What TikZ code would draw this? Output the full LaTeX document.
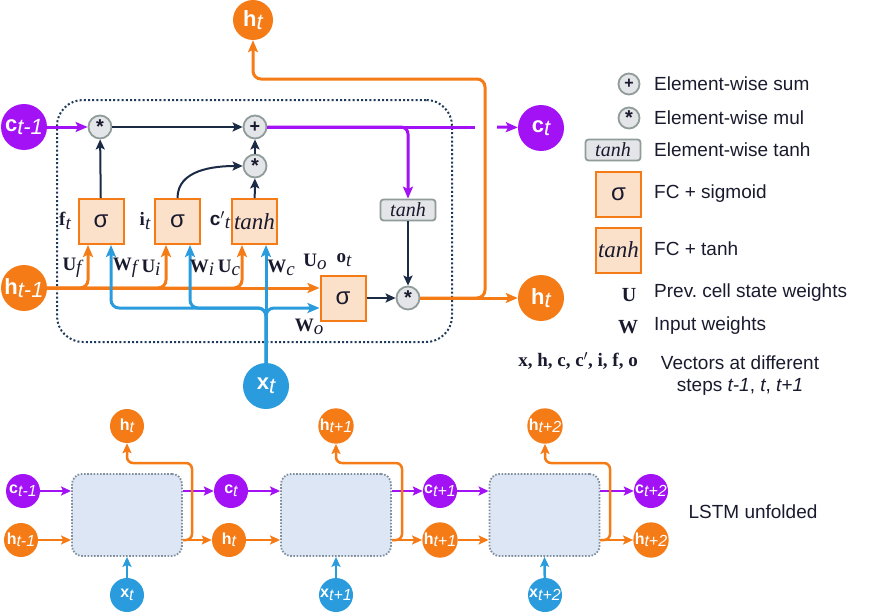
\documentclass[tikz,border=0pt]{standalone}
\usepackage{fontspec}
\setmainfont{Liberation Sans}
\newfontfamily\tms{Liberation Serif}
\usetikzlibrary{arrows.meta}

\definecolor{cOr}{HTML}{F47B16}
\definecolor{cPu}{HTML}{A311F5}
\definecolor{cBl}{HTML}{2A9BDC}
\definecolor{cNv}{HTML}{1B2A45}
\definecolor{cGate}{HTML}{FBE1CA}
\definecolor{cOp}{HTML}{E4E5E8}
\definecolor{cOpB}{HTML}{8F9C99}
\definecolor{cCell}{HTML}{DCE6F5}
\definecolor{cCellB}{HTML}{7F8F9C}
\definecolor{cTxt}{HTML}{1A1A2E}
\definecolor{cDot}{HTML}{1F3A5A}

% vector label: bold letter, italic lowered step index
\newcommand{\vl}[2]{\textbf{#1}\raisebox{-0.3ex}{\itshape #2}}
% weight / gate label in a serif face
\newcommand{\wl}[2]{{\tms\bfseries #1}\raisebox{-0.35ex}{\tms\itshape #2}}
\newcommand{\fs}[1]{\fontsize{#1}{#1}\selectfont}
% centred star for the element-wise product
\newcommand{\mulsym}{\raisebox{-0.45ex}{\fs{20}\bfseries *}}

\tikzset{
  vec/.style={circle, minimum size=46pt, inner sep=0pt, text=white, font=\fs{22}},
  vecS/.style={circle, minimum size=34pt, inner sep=0pt, text=white, font=\fs{16}},
  opc/.style={circle, draw=cOpB, fill=cOp, line width=1.8pt, minimum size=23pt, inner sep=0pt, text=cTxt, font=\fs{18}\bfseries},
  gate/.style={draw=cOr, fill=cGate, line width=2pt, minimum size=45pt, inner sep=0pt, text=cTxt},
  etanh/.style={draw=cOpB, fill=cOp, rounded corners=3pt, line width=1.8pt, minimum width=55pt, minimum height=21pt, inner sep=0pt, text=cTxt, font=\tms\itshape\fs{20}},
  cellbox/.style={draw=cCellB, fill=cCell, dash pattern=on 1.6pt off 1.6pt, line width=1.8pt, rounded corners=10pt, minimum width=110pt, minimum height=82pt, inner sep=0pt},
  frame/.style={draw=cDot, dash pattern=on 2pt off 2.2pt, line width=2pt, rounded corners=26pt, minimum width=395pt, minimum height=242pt, inner sep=0pt},
  lbl/.style={inner sep=0pt, text=cTxt, font=\fs{19}},
  leg/.style={inner sep=0pt, anchor=west, text=cTxt, font=\fs{19}},
  tipA/.tip={Stealth[length=12pt,width=10pt,inset=2.5pt]},
  tipS/.tip={Stealth[length=10pt,width=9pt,inset=2pt]},
  orL/.style={cOr, line width=3pt},
  puL/.style={cPu, line width=3pt},
  blL/.style={cBl, line width=3pt},
  nvL/.style={cNv, line width=2pt, -tipS},
  orS/.style={cOr, line width=2.5pt, -tipS},
  puS/.style={cPu, line width=2.5pt, -tipS},
  blS/.style={cBl, line width=2.5pt, -tipS},
}

\begin{document}
\begin{tikzpicture}[x=1pt, y=-1pt]
\useasboundingbox (0,0) rectangle (870,613);

% ---------- single LSTM cell ----------
\node[frame] (cellframe) at (254.5,221) {};

\node[vec, fill=cPu] (cprev) at (24,127) {\vl{c}{t-1}};
\node[vec, fill=cOr] (hprev) at (24,288) {\vl{h}{t-1}};
\node[vec, fill=cPu] (cnext) at (541,128) {\vl{c}{t}};
\node[vec, fill=cOr] (hnext) at (541,298) {\vl{h}{t}};
\node[vec, fill=cBl] (xin) at (266,386) {\vl{x}{t}};
\node[vec, fill=cOr, minimum size=40pt] (hup) at (253,20) {\vl{h}{t}};

\node[opc] (mf) at (100,127) {\mulsym};
\node[opc] (add) at (255,127) {+};
\node[opc] (mi) at (255,166) {\mulsym};
\node[gate, font=\fs{24}] (gf) at (101,221.5) {σ};
\node[gate, font=\fs{24}] (gi) at (177.5,221.5) {σ};
\node[gate, font=\tms\itshape\fs{23}] (gc) at (254.5,221.5) {tanh};
\node[gate, font=\fs{24}] (go) at (343,298) {σ};
\node[etanh] (th) at (408,210) {tanh};
\node[opc] (mo) at (408,298) {\mulsym};

% branch points
\coordinate (bus) at (266,308);
\coordinate (fU) at ([xshift=-13pt]gf.south);
\coordinate (iU) at ([xshift=-11.5pt]gi.south);
\coordinate (cU) at ([xshift=-12.5pt]gc.south);
\coordinate (fW) at ([xshift=10pt]gf.south);
\coordinate (iW) at ([xshift=12.5pt]gi.south);
\coordinate (cW) at ([xshift=11.5pt]gc.south);
\coordinate (cend) at (475,127);
\coordinate (cgap) at (497,127);
\coordinate (hturn) at (485,79);

% cell state path
\draw[puL, -tipA] (cprev) -- (mf);
\draw[nvL] (mf) -- (add);
\draw[nvL] (gf) -- (mf);
\draw[nvL] (gi.north) to[out=90, in=180] (mi.west);
\draw[nvL] (gc) -- (mi);
\draw[nvL] (mi) -- (add);
\draw[puL] (add.east) -- (cend);
\draw[puL, -tipA] (cgap) -- (cnext);
\draw[puL, rounded corners=7pt, -tipA] (add.east) -| (th.north);
\draw[nvL] (th) -- (mo);
\draw[nvL] (go) -- (mo);

% hidden state output
\draw[orL, -tipA] (mo) -- (hnext);
\draw[orL, rounded corners=8pt, -tipA] (mo.east) -| (hturn) -| (hup.south);

% previous hidden state into the gates
\draw[orL, -tipA] (hprev) -- (go.west |- hprev.east);
\draw[orL, rounded corners=8pt, -tipA] (hprev.east) -| (fU);
\draw[orL, rounded corners=8pt, -tipA] (hprev.east) -| (iU);
\draw[orL, rounded corners=8pt, -tipA] (hprev.east) -| (cU);

% input into the gates
\draw[blL, -tipA] (xin.north) -- (cW);
\draw[blL, rounded corners=8pt, -tipA] (xin.north) |- (fW |- bus) -- (fW);
\draw[blL, rounded corners=8pt, -tipA] (xin.north) |- (iW |- bus) -- (iW);
\draw[blL, rounded corners=8pt, -tipA] (xin.north) |- (go.west |- bus);

% gate and weight labels
\node[lbl] (lf) at (65,221) {\wl{f}{t}};
\node[lbl] (li) at (145,221) {\wl{i}{t}};
\node[lbl] (lc) at (220,220) {\textbf{c}$'$\raisebox{-0.35ex}{\tms\itshape t}};
\node[lbl] (lUf) at (72,268) {\wl{U}{f}};
\node[lbl] (lWf) at (125,268) {\wl{W}{f}};
\node[lbl] (lUi) at (151,268) {\wl{U}{i}};
\node[lbl] (lWi) at (202,268) {\wl{W}{i}};
\node[lbl] (lUc) at (229,268) {\wl{U}{c}};
\node[lbl] (lWc) at (281,268) {\wl{W}{c}};
\node[lbl] (lUo) at (315,262) {\wl{U}{o}};
\node[lbl] (lot) at (344,260) {\wl{o}{t}};
\node[lbl] (lWo) at (309,327) {\wl{W}{o}};

% ---------- legend ----------
\node[opc, minimum size=21pt, font=\fs{16}\bfseries] (lgA) at (629,84) {+};
\node[opc, minimum size=21pt] (lgM) at (629,118) {\mulsym};
\node[etanh] (lgT) at (613,150) {tanh};
\node[gate, font=\fs{24}] (lgS) at (618.5,194.5) {σ};
\node[gate, font=\tms\itshape\fs{23}] (lgG) at (618.5,250) {tanh};
\node[lbl, font=\tms\bfseries\fs{20}] (lgU) at (629,295) {U};
\node[lbl, font=\tms\bfseries\fs{20}] (lgW) at (628,327) {W};
\node[lbl, anchor=east, font=\tms\bfseries\fs{19}] (lgV) at (638,361) {x, h, c, c$'$, i, f, o};

\node[leg] (tA) at (654,84) {Element-wise sum};
\node[leg] (tM) at (654,118) {Element-wise mul};
\node[leg] (tT) at (654,150) {Element-wise tanh};
\node[leg] (tS) at (654,194) {FC + sigmoid};
\node[leg] (tG) at (654,249) {FC + tanh};
\node[leg] (tU) at (654,293) {Prev.\ cell state weights};
\node[leg] (tW) at (654,326) {Input weights};
\node[lbl] (tV1) at (740,363) {Vectors at different};
\node[lbl] (tV2) at (740,387) {steps \textit{t-1}, \textit{t}, \textit{t+1}};

% ---------- unfolded chain ----------
\node[cellbox] (k1) at (127,515) {};
\node[cellbox] (k2) at (336,515) {};
\node[cellbox] (k3) at (544.5,515) {};

\node[vecS, fill=cPu] (c0) at (23,491) {\vl{c}{t-1}};
\node[vecS, fill=cOr] (h0) at (21,540) {\vl{h}{t-1}};
\node[vecS, fill=cOr] (u1) at (127,426) {\vl{h}{t}};
\node[vecS, fill=cBl] (x1) at (127,595) {\vl{x}{t}};
\node[vecS, fill=cPu] (c1) at (231,491) {\vl{c}{t}};
\node[vecS, fill=cOr] (h1) at (229,540) {\vl{h}{t}};
\node[vecS, fill=cOr] (u2) at (336,426) {\vl{h}{t+1}};
\node[vecS, fill=cBl] (x2) at (336,595) {\vl{x}{t+1}};
\node[vecS, fill=cPu] (c2) at (440,491) {\vl{c}{t+1}};
\node[vecS, fill=cOr] (h2) at (440,540) {\vl{h}{t+1}};
\node[vecS, fill=cOr] (u3) at (545,426) {\vl{h}{t+2}};
\node[vecS, fill=cBl] (x3) at (545,595) {\vl{x}{t+2}};
\node[vecS, fill=cPu] (c3) at (651,491) {\vl{c}{t+2}};
\node[vecS, fill=cOr] (h3) at (651,540) {\vl{h}{t+2}};

\coordinate (r1) at (192,463);
\coordinate (r2) at (402,463);
\coordinate (r3) at (610,463);

\draw[puS] (c0) -- (k1.west |- c0);
\draw[orS] (h0) -- (k1.west |- h0);
\draw[blS] (x1) -- (k1.south);
\draw[puS] (k1.east |- c1) -- (c1);
\draw[orS] (k1.east |- h1) -- (h1);
\draw[orS, rounded corners=6pt] (k1.east |- h1) -| (r1) -| (u1.south);

\draw[puS] (c1) -- (k2.west |- c1);
\draw[orS] (h1) -- (k2.west |- h1);
\draw[blS] (x2) -- (k2.south);
\draw[puS] (k2.east |- c2) -- (c2);
\draw[orS] (k2.east |- h2) -- (h2);
\draw[orS, rounded corners=6pt] (k2.east |- h2) -| (r2) -| (u2.south);

\draw[puS] (c2) -- (k3.west |- c2);
\draw[orS] (h2) -- (k3.west |- h2);
\draw[blS] (x3) -- (k3.south);
\draw[puS] (k3.east |- c3) -- (c3);
\draw[orS] (k3.east |- h3) -- (h3);
\draw[orS, rounded corners=6pt] (k3.east |- h3) -| (r3) -| (u3.south);

\node[lbl] (tL) at (753,512) {LSTM unfolded};
\end{tikzpicture}
\end{document}
